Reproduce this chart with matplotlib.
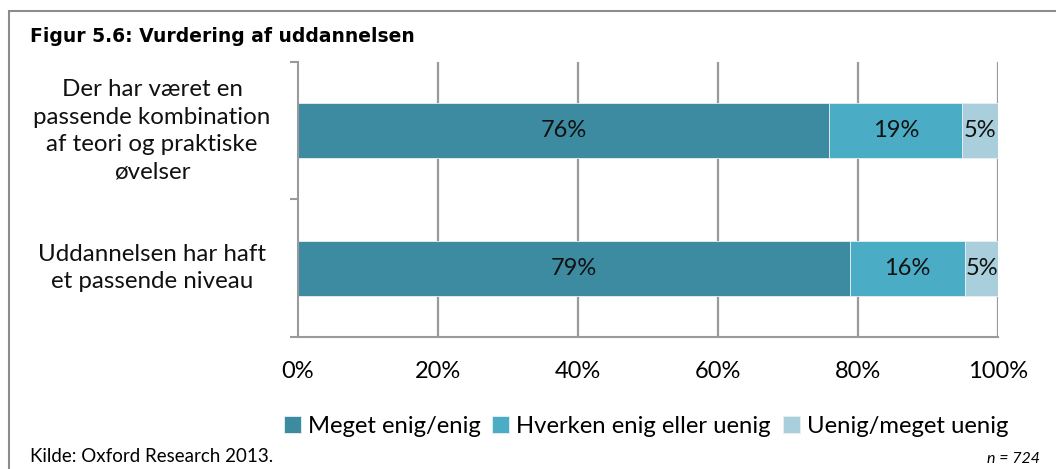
import matplotlib.pyplot as plt
from matplotlib.patches import Rectangle
from matplotlib.transforms import blended_transform_factory

plt.rcParams['font.family'] = ['Lato', 'DejaVu Sans']

categories = ['Der har været en\npassende kombination\naf teori og praktiske\nøvelser',
              'Uddannelsen har haft\net passende niveau']
series = ['Meget enig/enig', 'Hverken enig eller uenig', 'Uenig/meget uenig']
values = [[75.9, 78.9],   # Meget enig/enig
          [19.0, 16.4],   # Hverken enig eller uenig
          [5.1, 4.7]]     # Uenig/meget uenig
labels = [['76%', '79%'], ['19%', '16%'], ['5%', '5%']]
colors = ['#3C8BA1', '#4BACC6', '#A9CFDC']
xticks = [0, 20, 40, 60, 80, 100]

fig = plt.figure(figsize=(10.56, 4.69), dpi=100)
ax = fig.add_axes([298 / 1056, 1 - 337 / 469, 700 / 1056, 275 / 469])

# ramme rundt om figuren
fig.patches.append(Rectangle((9 / 1056, -0.1), 1.2, 1 - 11 / 469 + 0.1, transform=fig.transFigure,
                             fill=False, edgecolor='#8c8c8c', lw=1.5))

grey = '#9a9a9a'
for x in xticks[1:]:
    ax.axvline(x, color=grey, lw=1.6, zorder=0)

ypos = list(range(len(categories)))
left = [0] * len(categories)
for vals, labs, col, name in zip(values, labels, colors, series):
    ax.barh(ypos, vals, left=left, height=0.40, color=col, edgecolor='#e8f0f3', lw=0.6,
            label=name, zorder=2)
    for y, v, l, lab in zip(ypos, vals, left, labs):
        ax.text(l + v / 2, y, lab, ha='center', va='center', fontsize=17, color='#111111', zorder=3)
    left = [a + b for a, b in zip(left, vals)]

ax.set_xlim(0, 100)
ax.set_ylim(1.5, -0.5)
ax.set_xticks(xticks)
ax.set_xticklabels([f'{x}%' for x in xticks], fontsize=17)
ax.tick_params(axis='x', length=0, pad=17)
ax.set_yticks([-0.5, 0.5, 1.5])
ax.set_yticklabels([])
ax.tick_params(axis='y', length=6, width=1.5, color=grey, direction='out')
for s in ['top', 'right']:
    ax.spines[s].set_visible(False)
for s in ['left', 'bottom']:
    ax.spines[s].set_color(grey)
    ax.spines[s].set_linewidth(1.5)

trans = blended_transform_factory(fig.transFigure, ax.transData)
for y, cat in zip(ypos, categories):
    ax.text(152 / 1056, y, cat, transform=trans, ha='center', va='center',
            fontsize=17.4, linespacing=1.38, color='#111111')

fig.text(30 / 1056, 1 - 36 / 469, 'Figur 5.6: Vurdering af uddannelsen', fontsize=13.5,
         fontweight='bold', family='DejaVu Sans', va='center')
fig.text(30 / 1056, 1 - 456 / 469, 'Kilde: Oxford Research 2013.', fontsize=13.5, va='center')
fig.text(1040 / 1056, 1 - 459 / 469, 'n = 724', fontsize=11.5, style='italic', ha='right', va='center')

leg = ax.legend(loc='center', bbox_to_anchor=(646 / 1056, 1 - 426 / 469), bbox_transform=fig.transFigure,
                ncol=3, frameon=False, fontsize=17.2, handlelength=0.7, handleheight=0.7,
                handletextpad=0.3, columnspacing=0.5)

fig.savefig('out.png', dpi=100)
